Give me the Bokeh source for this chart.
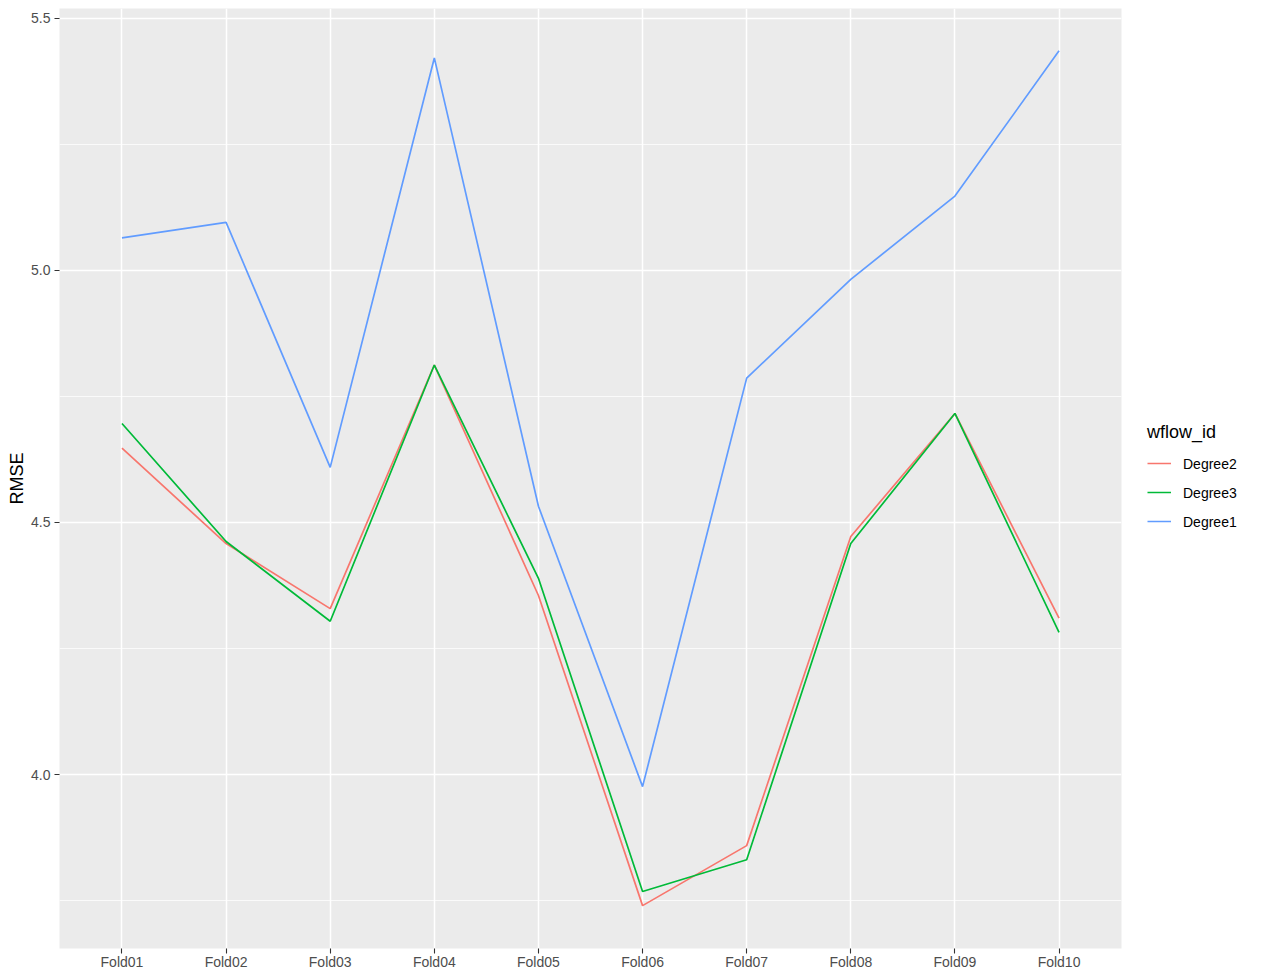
from bokeh.plotting import figure
from bokeh.models import FactorRange, Range1d, FixedTicker, Legend, LegendItem
from bokeh.embed import file_html
from bokeh.resources import INLINE

folds = ["Fold01", "Fold02", "Fold03", "Fold04", "Fold05",
         "Fold06", "Fold07", "Fold08", "Fold09", "Fold10"]
degree2 = [4.647, 4.458, 4.329, 4.812, 4.355, 3.740, 3.859, 4.472, 4.716, 4.310]
degree3 = [4.696, 4.462, 4.304, 4.812, 4.389, 3.768, 3.831, 4.458, 4.716, 4.282]
degree1 = [5.064, 5.095, 4.609, 5.421, 4.532, 3.976, 4.786, 4.982, 5.147, 5.435]
series_names = ["Degree2", "Degree3", "Degree1"]
series_colors = ["#F8766D", "#00BA38", "#619CFF"]
y_ticks = [4.0, 4.5, 5.0, 5.5]
y_minor = [3.75, 4.25, 4.75, 5.25]

FONT = "Liberation Sans"

p = figure(frame_width=1062, frame_height=940, output_backend="svg", toolbar_location=None,
           x_range=FactorRange(factors=folds, range_padding=0.1, range_padding_units="absolute"),
           y_range=Range1d(3.655, 5.519),
           min_border_left=59, min_border_right=0, min_border_top=8, min_border_bottom=26)

p.background_fill_color = "#EBEBEB"
p.border_fill_color = "white"
p.outline_line_color = None

renderers = []
for name, vals, col in zip(series_names, [degree2, degree3, degree1], series_colors):
    r = p.line(folds, vals, line_color=col, line_width=1.7)
    renderers.append((name, r))

p.xgrid.grid_line_color = "white"
p.xgrid.grid_line_width = 1.5
p.ygrid.grid_line_color = "white"
p.ygrid.grid_line_width = 1.5
p.ygrid.minor_grid_line_color = "white"
p.ygrid.minor_grid_line_width = 0.75

p.yaxis.ticker = FixedTicker(ticks=y_ticks, minor_ticks=y_minor)
p.yaxis.major_label_overrides = {4.0: "4.0", 4.5: "4.5", 5.0: "5.0", 5.5: "5.5"}

for ax in (p.xaxis, p.yaxis):
    ax.axis_line_color = None
    ax.major_tick_line_color = "#333333"
    ax.major_tick_line_width = 1.1
    ax.major_tick_in = 0
    ax.major_tick_out = 5
    ax.minor_tick_line_color = None
    ax.major_label_text_font = FONT
    ax.major_label_text_font_size = "14px"
    ax.major_label_text_color = "#4D4D4D"
    ax.axis_label_text_font = FONT
    ax.axis_label_text_font_style = "normal"
    ax.axis_label_text_color = "black"
    ax.axis_label_text_font_size = "18px"

p.xaxis.major_label_standoff = 0
p.yaxis.major_label_standoff = 4
p.yaxis.axis_label = "RMSE"
p.yaxis.axis_label_standoff = 1

legend = Legend(items=[LegendItem(label=n, renderers=[r]) for n, r in renderers],
                location="center_left")
legend.title = "wflow_id"
legend.title_text_font = FONT
legend.title_text_font_size = "18px"
legend.title_text_font_style = "normal"
legend.title_text_color = "black"
legend.title_standoff = 7
legend.label_text_font = FONT
legend.label_text_font_size = "14px"
legend.label_text_color = "black"
legend.glyph_width = 24
legend.glyph_height = 27
legend.label_height = 27
legend.spacing = 2
legend.label_standoff = 12
legend.padding = 0
legend.margin = 26
legend.border_line_color = None
legend.background_fill_alpha = 0
p.add_layout(legend, "right")

open("out.html", "w").write(file_html(p, INLINE))
